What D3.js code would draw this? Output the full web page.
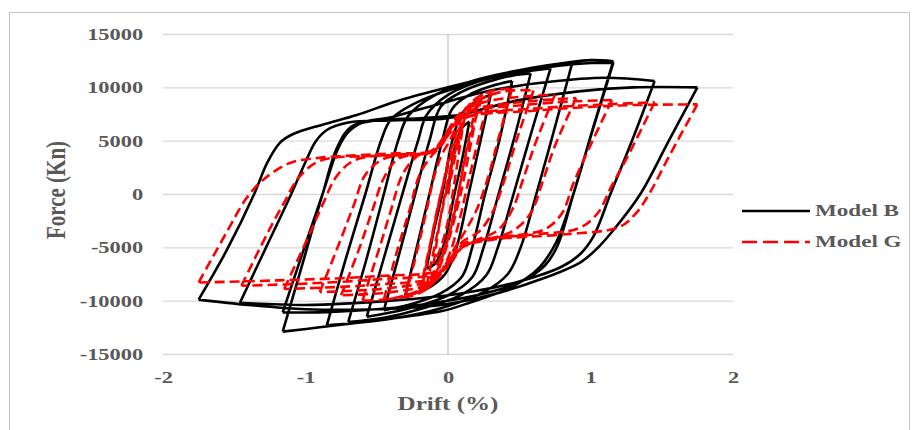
<!DOCTYPE html>
<html>
<head>
<meta charset="utf-8">
<script src="https://cdn.jsdelivr.net/npm/d3@7"></script>
<style>
  html, body { margin: 0; padding: 0; background: #fff; }
  svg { display: block; }
</style>
</head>
<body>
<svg id="chart" width="912" height="430"></svg>
<script>
// Axis ticks
const driftTicks = [-2, -1, 0, 1, 2];
const forceTicks = [-15000, -10000, -5000, 0, 5000, 10000, 15000];
const seriesNames = ["Model B", "Model G"];

// Hysteresis response, [drift (%), force (kN)] in loading order
const modelB = [
  [0,0],[0.05,4500],[0.1,6200],[0.15,6800],
  [0.1,3300],[0.045,0],[-0.03,-4800],[-0.09,-6500],[-0.15,-7000],
  [-0.1,-3500],[-0.04,0],[0.03,5000],[0.1,7600],[0.2,8700],[0.3,9300],
  [0.22,4500],[0.145,0],[0.06,-5000],[-0.02,-7500],[-0.15,-8900],[-0.3,-9500],
  [-0.21,-4500],[-0.13,0],[-0.04,5000],[0.03,8000],[0.15,9300],[0.3,10100],[0.45,10600],
  [0.36,5000],[0.26,0],[0.17,-5000],[0.1,-7700],[-0.05,-9300],[-0.25,-10300],[-0.45,-10900],
  [-0.34,-5500],[-0.23,0],[-0.13,5000],[-0.05,8200],[0.1,9600],[0.3,10600],[0.45,11100],[0.58,11300],
  [0.47,5500],[0.355,0],[0.25,-5000],[0.17,-7800],[0,-9500],[-0.3,-10800],[-0.57,-11500],
  [-0.45,-6000],[-0.32,0],[-0.21,5000],[-0.15,7400],[0,9300],[0.3,10900],[0.55,11500],[0.72,11800],
  [0.59,6000],[0.46,0],[0.35,-5000],[0.27,-7600],[0.1,-9400],[-0.2,-10800],[-0.45,-11600],[-0.7,-12000],
  [-0.57,-6000],[-0.45,0],[-0.35,5000],[-0.28,7300],[-0.1,9200],[0.2,10700],[0.5,11600],[0.7,12000],[0.87,12200],
  [0.745,6000],[0.62,0],[0.51,-5000],[0.42,-7500],[0.25,-9200],[-0.05,-10700],[-0.4,-11700],[-0.65,-12100],[-0.85,-12300],
  [-0.72,-6200],[-0.58,0],[-0.47,5000],[-0.4,7000],[-0.2,8700],[0.2,10500],[0.6,11700],[0.9,12200],[1.16,12300],
  [1.02,6200],[0.88,0],[0.77,-4800],[0.68,-6700],[0.5,-8300],[0.2,-9500],[-0.2,-10400],[-0.6,-10900],[-0.9,-11100],[-1.16,-11100],
  [-1.02,-5500],[-0.88,0],[-0.77,4300],[-0.7,5800],[-0.6,6700],[-0.4,7200],[-0.1,8300],[0.3,9700],[0.7,10500],[1.1,10900],[1.45,10600],
  [1.3,5300],[1.14,0],[1.02,-4000],[0.93,-5600],[0.8,-6800],[0.5,-8200],[0.1,-9300],[-0.4,-10000],[-1.0,-10400],[-1.46,-10200],
  [-1.28,-5100],[-1.1,0],[-1.0,3000],[-0.93,4900],[-0.85,6000],[-0.7,6700],[-0.4,6900],[0,7100],[0.2,7800],[0.5,8800],[0.9,9600],[1.3,10000],[1.75,10000],
  [1.55,5000],[1.35,0],[1.16,-3400],[1.05,-5060],[0.93,-6400],[0.65,-8000],[0.29,-9500],[-0.05,-10400],[-0.5,-10800],[-1.0,-10800],[-1.4,-10400],[-1.75,-9900],
  [-1.55,-5200],[-1.36,0],[-1.27,2900],[-1.18,4800],[-1.09,5600],[-0.88,6500],[-0.64,7400],[-0.36,8700],[0,10000],[0.3,11000],[0.58,11800],[0.85,12350],[1.0,12550],[1.16,12450],
  [1.02,6300],[0.88,0],[0.76,-4500],[0.64,-6900],[0.45,-8700],[0.15,-10200],[-0.05,-11000],[-0.48,-11800],[-0.9,-12500],[-1.16,-12900],
  [-1.02,-6500],[-0.88,0],[-0.78,4300],[-0.68,6300],[-0.5,6900],[-0.2,7100],[0.1,7400]
];

const modelG = [
  [0,0],[0.05,3500],[0.1,6000],
  [0.05,1500],[0,-2500],[-0.05,-5000],[-0.1,-6500],
  [-0.05,-2000],[0.02,2500],[0.08,5500],[0.14,7500],[0.2,8500],
  [0.12,3500],[0.05,-1500],[-0.03,-5500],[-0.1,-7800],[-0.15,-8600],
  [-0.08,-4000],[0,1000],[0.08,5500],[0.15,8000],[0.22,9000],
  [0.15,4000],[0.08,-500],[0,-4500],[-0.07,-7200],[-0.14,-8800],[-0.2,-9200],
  [-0.13,-5000],[-0.06,-500],[0.02,3500],[0.1,6800],[0.18,8400],[0.24,9100],
  [0.14,4500],[0.07,0],[0,-4000],[-0.08,-6800],[-0.13,-8000],[-0.18,-8600],
  [-0.12,-4500],[-0.05,0],[0.03,4500],[0.12,7800],[0.2,9000],[0.3,9600],
  [0.22,5500],[0.14,1000],[0.07,-3000],[0,-6000],[-0.1,-8300],[-0.2,-9300],[-0.3,-9700],
  [-0.22,-5500],[-0.15,-1500],[-0.1,1500],[-0.05,3500],[0.02,5200],[0.1,7500],[0.2,9000],[0.32,9700],[0.45,9900],
  [0.35,5000],[0.28,1500],[0.2,-1500],[0.12,-3500],[0.05,-5000],[-0.05,-7300],[-0.15,-8800],[-0.3,-9600],[-0.45,-9900],
  [-0.35,-5000],[-0.27,-1500],[-0.2,1800],[-0.12,3500],[-0.05,4500],[0.03,6500],[0.12,8000],[0.3,9300],[0.45,9700],[0.6,9700],
  [0.48,5000],[0.4,1500],[0.32,-1500],[0.22,-3500],[0.1,-4500],[0.02,-6000],[-0.08,-8000],[-0.25,-9300],[-0.45,-9900],[-0.6,-10000],
  [-0.48,-5000],[-0.4,-1500],[-0.32,1800],[-0.22,3500],[-0.1,4200],[-0.02,5500],[0.08,7500],[0.25,8600],[0.5,9100],[0.75,9300],
  [0.62,5000],[0.53,1500],[0.45,-1500],[0.35,-3400],[0.2,-4300],[0.08,-5000],[-0.02,-7000],[-0.15,-8500],[-0.4,-9200],[-0.75,-9500],
  [-0.62,-5000],[-0.53,-1500],[-0.45,1500],[-0.35,3300],[-0.15,3900],[-0.05,4500],[0.03,6500],[0.15,7800],[0.5,8600],[0.9,9000],
  [0.75,4500],[0.66,1000],[0.58,-1800],[0.45,-3500],[0.25,-4300],[0.1,-4800],[0,-6500],[-0.1,-8000],[-0.4,-8800],[-0.9,-9200],
  [-0.76,-4500],[-0.66,-1000],[-0.58,1800],[-0.45,3300],[-0.2,3700],[-0.08,4200],[0,6000],[0.12,7600],[0.5,8300],[0.9,8700],[1.15,8800],
  [0.98,4000],[0.88,1000],[0.8,-1800],[0.68,-3300],[0.4,-4000],[0.12,-4600],[0.02,-6300],[-0.1,-7800],[-0.5,-8500],[-1.15,-8900],
  [-0.98,-4000],[-0.88,-1000],[-0.78,1700],[-0.65,3200],[-0.35,3700],[-0.1,4000],[0,5800],[0.12,7300],[0.6,8000],[1.1,8400],[1.45,8600],
  [1.26,3500],[1.15,800],[1.05,-1800],[0.92,-3200],[0.6,-3800],[0.2,-4400],[0.06,-5500],[-0.05,-7300],[-0.5,-8000],[-1.0,-8400],[-1.45,-8600],
  [-1.26,-3500],[-1.15,-800],[-1.05,1500],[-0.9,3100],[-0.5,3600],[-0.12,3900],[-0.03,5300],[0.08,7000],[0.6,7800],[1.2,8300],[1.75,8400],
  [1.55,3500],[1.42,200],[1.32,-1800],[1.2,-3100],[0.8,-3800],[0.3,-4300],[0.1,-5000],[-0.02,-7000],[-0.5,-7700],[-1.2,-8100],[-1.75,-8300],
  [-1.55,-3500],[-1.42,-500],[-1.3,1300],[-1.11,2900],[-0.9,3400],[-0.4,3800],[-0.1,4100],[0,5500],[0.1,7000],[0.4,7800]
];

const FONT = "'Liberation Serif', 'Times New Roman', serif";
const TEXT_COLOR = "#595959";
const STRETCH = 1.32;   // glyphs are drawn slightly wide

const svg = d3.select("#chart");
const plot = { left: 163, right: 733, top: 34, bottom: 354 };

const x = d3.scaleLinear().domain([-2, 2]).range([plot.left, plot.right]);
const y = d3.scaleLinear().domain([-15000, 15000]).range([plot.bottom, plot.top]);

// chart frame
svg.append("rect")
  .attr("x", 9.5).attr("y", 12.5)
  .attr("width", 900).attr("height", 440)
  .attr("fill", "none").attr("stroke", "#c4c4c4").attr("stroke-width", 1);

// value axis with horizontal gridlines
const yAxis = svg.append("g")
  .attr("transform", `translate(${plot.left},0)`)
  .call(d3.axisLeft(y).tickValues(forceTicks).tickSize(-(plot.right - plot.left))
        .tickPadding(15).tickFormat(d => String(d)));
yAxis.select(".domain").remove();
yAxis.selectAll(".tick line").attr("stroke", "#d9d9d9").attr("stroke-width", 1.3);
yAxis.selectAll(".tick text")
  .attr("font-family", FONT).attr("font-size", 17).attr("font-weight", "bold")
  .attr("fill", TEXT_COLOR).attr("transform", `scale(${STRETCH},1)`);

// vertical axis line through zero drift
svg.append("line")
  .attr("x1", x(0)).attr("x2", x(0))
  .attr("y1", plot.top).attr("y2", plot.bottom)
  .attr("stroke", "#c8c8c8").attr("stroke-width", 1.3);

// drift labels along the bottom
const xAxis = svg.append("g")
  .attr("transform", `translate(0,${plot.bottom})`)
  .call(d3.axisBottom(x).tickValues(driftTicks).tickSize(0).tickPadding(17)
        .tickFormat(d => String(d)));
xAxis.select(".domain").remove();
xAxis.selectAll(".tick text")
  .attr("font-family", FONT).attr("font-size", 17).attr("font-weight", "bold")
  .attr("fill", TEXT_COLOR).attr("transform", `scale(${STRETCH},1)`);

// axis titles
svg.append("text")
  .attr("transform", `translate(${x(0)},410) scale(${STRETCH},1)`)
  .attr("text-anchor", "middle")
  .attr("font-family", FONT).attr("font-size", 19).attr("font-weight", "bold")
  .attr("fill", TEXT_COLOR)
  .text("Drift (%)");

svg.append("text")
  .attr("transform", `translate(65,190) scale(${STRETCH},1) rotate(-90)`)
  .attr("text-anchor", "middle")
  .attr("font-family", FONT).attr("font-size", 21).attr("font-weight", "bold")
  .attr("fill", TEXT_COLOR)
  .text("Force (Kn)");

// split a loading path into branches at each drift reversal
function branches(pts) {
  const out = [];
  let cur = [pts[0]], dir = 0;
  for (let i = 1; i < pts.length; i++) {
    const s = Math.sign(pts[i][0] - pts[i - 1][0]);
    if (dir !== 0 && s !== dir) { out.push(cur); cur = [pts[i - 1]]; }
    dir = s;
    cur.push(pts[i]);
  }
  out.push(cur);
  return out;
}

const line = d3.line()
  .x(d => x(d[0]))
  .y(d => y(d[1]))
  .curve(d3.curveCatmullRom.alpha(0.5));

const pathOf = pts => branches(pts).map(b => line(b)).join("");

svg.append("path")
  .attr("d", pathOf(modelB))
  .attr("fill", "none").attr("stroke", "#000")
  .attr("stroke-width", 2.6).attr("stroke-linejoin", "round");

svg.append("path")
  .attr("d", pathOf(modelG))
  .attr("fill", "none").attr("stroke", "#ff0000")
  .attr("stroke-width", 2.6).attr("stroke-dasharray", "10,5")
  .attr("stroke-linejoin", "round");

// legend
const legend = svg.append("g");
const legendRows = [
  { name: seriesNames[0], color: "#000", dash: null, y: 211 },
  { name: seriesNames[1], color: "#ff0000", dash: "15,6", y: 242 }
];
legendRows.forEach(r => {
  legend.append("line")
    .attr("x1", 742).attr("x2", 810).attr("y1", r.y).attr("y2", r.y)
    .attr("stroke", r.color).attr("stroke-width", 2.6)
    .attr("stroke-dasharray", r.dash);
  legend.append("text")
    .attr("transform", `translate(815,${r.y + 5}) scale(${STRETCH},1)`)
    .attr("font-family", FONT).attr("font-size", 17.5).attr("font-weight", "bold")
    .attr("fill", TEXT_COLOR)
    .text(r.name);
});
</script>
</body>
</html>
